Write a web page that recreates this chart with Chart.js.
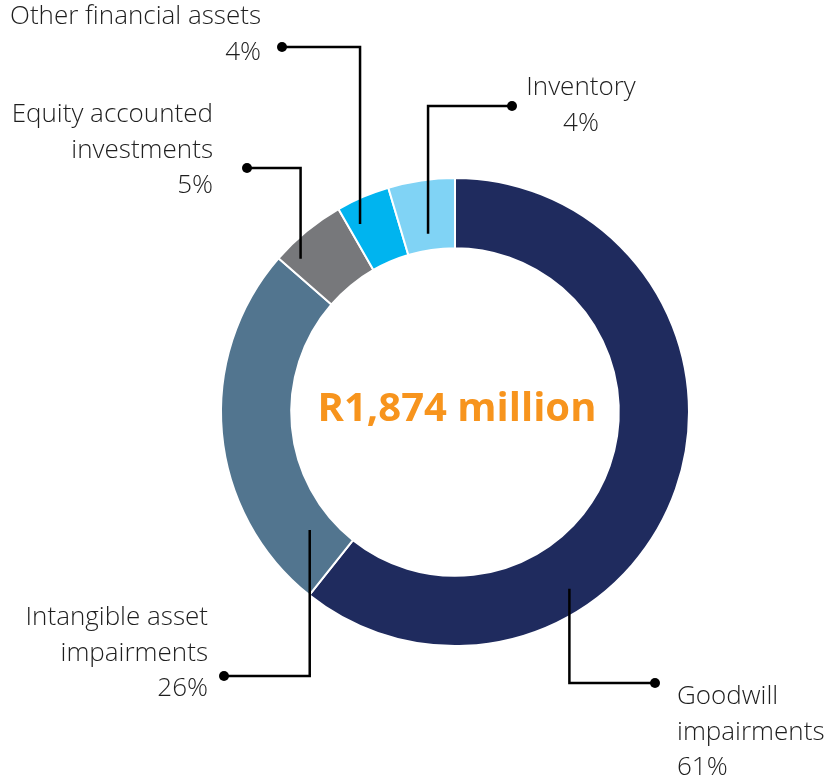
<!DOCTYPE html>
<html>
<head>
<meta charset="utf-8">
<script src="https://cdn.jsdelivr.net/npm/chart.js@4"></script>
<style>
  html, body { margin: 0; padding: 0; background: #fff; }
  canvas { display: block; }
</style>
</head>
<body>
<canvas id="impairChart" width="828" height="779"></canvas>
<script>
// DATA
const categories = ["Goodwill impairments", "Intangible asset impairments", "Equity accounted investments", "Other financial assets", "Inventory"];
const shares = [60.7, 25.7, 5.3, 3.7, 4.6];
const shareLabels = ["61%", "26%", "5%", "4%", "4%"];
const totalLabel = "R1,874 million";
const colours = ["#1f2b5e", "#52758f", "#77787b", "#00b4ef", "#80d3f5"];

// label text lines per slice
const labelLines = [
  ["Goodwill", "impairments", shareLabels[0]],
  ["Intangible asset", "impairments", shareLabels[1]],
  ["Equity accounted", "investments", shareLabels[2]],
  ["Other financial assets", shareLabels[3]],
  ["Inventory", shareLabels[4]]
];

// leader layout: anchor on the ring (angle from top, fraction of radius), elbow y, dot x, text spot
const leaders = [
  { ang: 147.1, rf: 0.90, elbowY: 683, dotX: 655, tx: 677, ty: 697, align: "left" },
  { ang: 230.9, rf: 0.80, elbowY: 676, dotX: 224, tx: 208, ty: 618, align: "right" },
  { ang: 314.8, rf: 0.93, elbowY: 168, dotX: 247, tx: 213, ty: 115, align: "right" },
  { ang: 333.2, rf: 0.90, elbowY: 47,  dotX: 282, tx: 261, ty: 17,  align: "right" },
  { ang: 351.4, rf: 0.77, elbowY: 106, dotX: 512, tx: 581, ty: 88,  align: "center" }
];

const FONT = '"Open Sans", sans-serif';

const leaderPlugin = {
  id: "leaders",
  afterDatasetsDraw(chart) {
    const ctx = chart.ctx;
    const arc = chart.getDatasetMeta(0).data[0];
    const cx = arc.x, cy = arc.y, R = arc.outerRadius;
    ctx.save();
    leaders.forEach((l, i) => {
      const a = l.ang * Math.PI / 180;
      const sx = cx + Math.sin(a) * R * l.rf;
      const sy = cy - Math.cos(a) * R * l.rf;
      ctx.strokeStyle = "#000";
      ctx.lineWidth = 2.5;
      ctx.beginPath();
      ctx.moveTo(sx, sy);
      ctx.lineTo(sx, l.elbowY);
      ctx.lineTo(l.dotX, l.elbowY);
      ctx.stroke();
      ctx.fillStyle = "#000";
      ctx.beginPath();
      ctx.arc(l.dotX, l.elbowY, 5, 0, Math.PI * 2);
      ctx.fill();

      ctx.fillStyle = "#1e1e1e";
      ctx.font = "300 26px " + FONT;
      ctx.textAlign = l.align;
      ctx.textBaseline = "middle";
      labelLines[i].forEach((t, j) => {
        ctx.fillText(t, l.tx, l.ty + j * 35.5);
      });
    });

    // centre total
    ctx.fillStyle = "#f7941d";
    ctx.font = "bold 40px " + FONT;
    ctx.textAlign = "center";
    ctx.textBaseline = "middle";
    ctx.fillText(totalLabel, cx + 2, cy - 2);
    ctx.restore();
  }
};

new Chart(document.getElementById("impairChart"), {
  type: "doughnut",
  data: {
    labels: categories,
    datasets: [{
      data: shares,
      backgroundColor: colours,
      borderColor: "#ffffff",
      borderWidth: 2
    }]
  },
  options: {
    responsive: false,
    animation: false,
    cutout: "70%",
    layout: { padding: { left: 220, right: 138, top: 177, bottom: 132 } },
    plugins: {
      legend: { display: false },
      tooltip: { enabled: false }
    }
  },
  plugins: [leaderPlugin]
});
</script>
</body>
</html>
